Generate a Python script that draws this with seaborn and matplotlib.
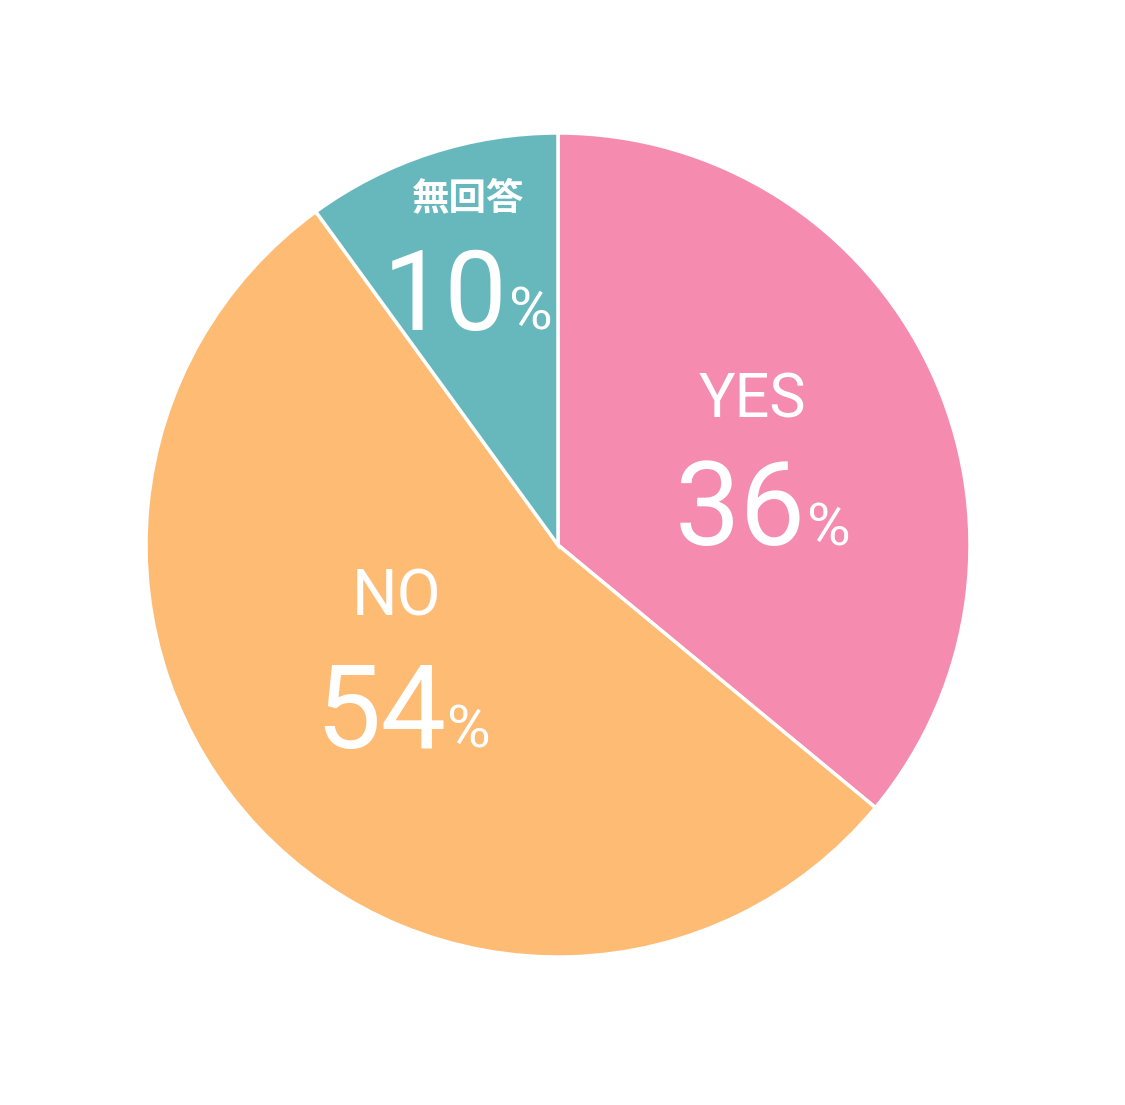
import matplotlib
matplotlib.use("Agg")
import matplotlib.pyplot as plt
import seaborn as sns

# data
labels = ["YES", "NO", "無回答"]
values = [36, 54, 10]
colors = ["#F58BAE", "#FDBB74", "#66B8BC"]

sns.set_theme(style="white")
plt.rcParams['font.family'] = ['Roboto', 'Noto Sans CJK JP', 'DejaVu Sans']

W, H = 1125, 1105
fig = plt.figure(figsize=(W / 100, H / 100), dpi=100)
fig.patch.set_facecolor("white")

# pie centre (558, 545), radius 412 px
cx, cy, r = 558, 545, 412
ax = fig.add_axes([(cx - r) / W, (H - cy - r) / H, 2 * r / W, 2 * r / H])
ax.pie(values, colors=sns.color_palette(colors), startangle=90, counterclock=False,
       radius=1, wedgeprops=dict(edgecolor="white", linewidth=2.5))
ax.set_xlim(-1, 1)
ax.set_ylim(-1, 1)
ax.axis("off")


def px(x, y):
    return x / W, 1 - y / H


# label placement in pixel coords: (label centre, number right edge / baseline)
label_pos = [(752, 400), (397, 597), (468, 198)]
num_pos = [(806, 545), (446, 748), (508, 330)]
num_size = [84, 84, 80]
label_size = [44, 46, 27]
label_font = [['Roboto'], ['Roboto'], ['Noto Sans CJK JP']]
label_weight = ["normal", "normal", "bold"]

for i, (lab, val) in enumerate(zip(labels, values)):
    fig.text(*px(*label_pos[i]), lab, color="white", fontsize=label_size[i],
             ha="center", va="center", family=label_font[i], fontweight=label_weight[i])
    nx, ny = num_pos[i]
    fig.text(*px(nx, ny), f"{val}", color="white", fontsize=num_size[i], ha="right",
             va="baseline")
    fig.text(*px(nx + 1, ny), "%", color="white", fontsize=43,
             ha="left", va="baseline")

fig.savefig("out.png", dpi=100, facecolor="white")
plt.close()
